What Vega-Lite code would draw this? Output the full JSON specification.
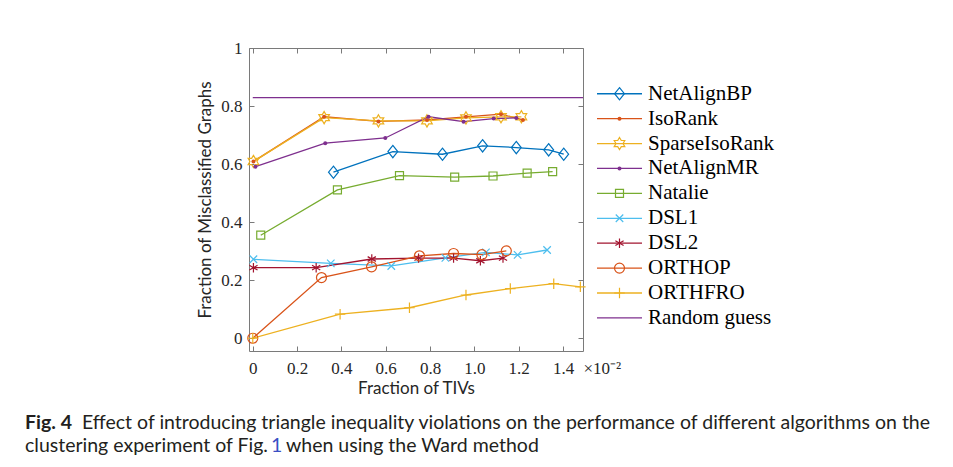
{
  "$schema": "https://vega.github.io/schema/vega-lite/v6.json",
  "background": "white",
  "padding": {"left": 25, "top": 38, "right": 5, "bottom": 5},
  "datasets": {
    "pts": [
      {"series": "NetAlignBP", "x": 0.364, "y": 0.572},
      {"series": "NetAlignBP", "x": 0.632, "y": 0.643},
      {"series": "NetAlignBP", "x": 0.856, "y": 0.634},
      {"series": "NetAlignBP", "x": 1.037, "y": 0.663},
      {"series": "NetAlignBP", "x": 1.189, "y": 0.657},
      {"series": "NetAlignBP", "x": 1.335, "y": 0.649},
      {"series": "NetAlignBP", "x": 1.403, "y": 0.634},
      {"series": "IsoRank", "x": 0.003, "y": 0.609},
      {"series": "IsoRank", "x": 0.322, "y": 0.763},
      {"series": "IsoRank", "x": 0.567, "y": 0.747},
      {"series": "IsoRank", "x": 0.786, "y": 0.752},
      {"series": "IsoRank", "x": 0.962, "y": 0.763},
      {"series": "IsoRank", "x": 1.12, "y": 0.772},
      {"series": "IsoRank", "x": 1.219, "y": 0.752},
      {"series": "SparseIsoRank", "x": 0.003, "y": 0.609},
      {"series": "SparseIsoRank", "x": 0.322, "y": 0.76},
      {"series": "SparseIsoRank", "x": 0.567, "y": 0.749},
      {"series": "SparseIsoRank", "x": 0.786, "y": 0.749},
      {"series": "SparseIsoRank", "x": 0.962, "y": 0.759},
      {"series": "SparseIsoRank", "x": 1.12, "y": 0.763},
      {"series": "SparseIsoRank", "x": 1.212, "y": 0.763},
      {"series": "NetAlignMR", "x": 0.012, "y": 0.591},
      {"series": "NetAlignMR", "x": 0.327, "y": 0.672},
      {"series": "NetAlignMR", "x": 0.598, "y": 0.69},
      {"series": "NetAlignMR", "x": 0.793, "y": 0.763},
      {"series": "NetAlignMR", "x": 0.951, "y": 0.746},
      {"series": "NetAlignMR", "x": 1.087, "y": 0.757},
      {"series": "NetAlignMR", "x": 1.189, "y": 0.759},
      {"series": "Natalie", "x": 0.036, "y": 0.355},
      {"series": "Natalie", "x": 0.382, "y": 0.511},
      {"series": "Natalie", "x": 0.662, "y": 0.56},
      {"series": "Natalie", "x": 0.911, "y": 0.555},
      {"series": "Natalie", "x": 1.084, "y": 0.559},
      {"series": "Natalie", "x": 1.238, "y": 0.569},
      {"series": "Natalie", "x": 1.353, "y": 0.574},
      {"series": "DSL1", "x": 0.003, "y": 0.272},
      {"series": "DSL1", "x": 0.352, "y": 0.258},
      {"series": "DSL1", "x": 0.625, "y": 0.249},
      {"series": "DSL1", "x": 0.869, "y": 0.277},
      {"series": "DSL1", "x": 1.052, "y": 0.296},
      {"series": "DSL1", "x": 1.195, "y": 0.287},
      {"series": "DSL1", "x": 1.328, "y": 0.304},
      {"series": "DSL2", "x": 0.003, "y": 0.243},
      {"series": "DSL2", "x": 0.286, "y": 0.243},
      {"series": "DSL2", "x": 0.537, "y": 0.273},
      {"series": "DSL2", "x": 0.748, "y": 0.276},
      {"series": "DSL2", "x": 0.906, "y": 0.276},
      {"series": "DSL2", "x": 1.027, "y": 0.267},
      {"series": "DSL2", "x": 1.129, "y": 0.276},
      {"series": "ORTHOP", "x": 0, "y": 0},
      {"series": "ORTHOP", "x": 0.31, "y": 0.209},
      {"series": "ORTHOP", "x": 0.536, "y": 0.246},
      {"series": "ORTHOP", "x": 0.752, "y": 0.284},
      {"series": "ORTHOP", "x": 0.906, "y": 0.292},
      {"series": "ORTHOP", "x": 1.034, "y": 0.288},
      {"series": "ORTHOP", "x": 1.144, "y": 0.301},
      {"series": "ORTHFRO", "x": 0, "y": 0},
      {"series": "ORTHFRO", "x": 0.394, "y": 0.083},
      {"series": "ORTHFRO", "x": 0.707, "y": 0.105},
      {"series": "ORTHFRO", "x": 0.962, "y": 0.149},
      {"series": "ORTHFRO", "x": 1.162, "y": 0.171},
      {"series": "ORTHFRO", "x": 1.358, "y": 0.188},
      {"series": "ORTHFRO", "x": 1.478, "y": 0.177},
      {"series": "Random guess", "x": 0, "y": 0.829},
      {"series": "Random guess", "x": 1.49, "y": 0.829}
    ]
  },
  "spacing": 381,
  "bounds": "flush",
  "vconcat": [
    {
      "bounds": "flush",
      "spacing": 14,
      "hconcat": [
        {
          "width": 334,
          "height": 303,
          "data": {"name": "pts"},
          "resolve": {"axis": {"x": "independent", "y": "independent"}},
          "layer": [
            {
              "mark": {"type": "line", "strokeWidth": 1.3},
              "encoding": {
                "x": {
                  "field": "x",
                  "type": "quantitative",
                  "scale": {"domain": [-0.017, 1.49], "nice": false, "zero": false},
                  "axis": {
                    "orient": "bottom",
                    "values": [0, 0.2, 0.4, 0.6, 0.8, 1, 1.2, 1.4, 1.49],
                    "labelExpr": "datum.value > 1.45 ? '×10⁻²' : datum.value == 0 ? '0' : format(datum.value, '.1f')",
                    "labelAlign": {"condition": {"test": "datum.value > 1.45", "value": "left"}, "value": "center"},
                    "tickOpacity": {"condition": {"test": "datum.value > 1.45", "value": 0}, "value": 1},
                    "tickSize": -5,
                    "tickColor": "#7a7a7a",
                    "domain": false,
                    "grid": false,
                    "labelFont": "Liberation Serif",
                    "labelFontSize": 17,
                    "labelColor": "#262626",
                    "labelPadding": 14,
                    "labelOverlap": false,
                    "labelFlush": false,
                    "title": "Fraction of TIVs",
                    "titleFont": "Lato",
                    "titleFontSize": 17,
                    "titleFontWeight": "normal",
                    "titleColor": "#262626",
                    "titlePadding": 4
                  }
                },
                "y": {
                  "field": "y",
                  "type": "quantitative",
                  "scale": {"domain": [-0.044, 1], "nice": false, "zero": false},
                  "axis": {
                    "orient": "left",
                    "values": [0, 0.2, 0.4, 0.6, 0.8, 1],
                    "labelExpr": "datum.value == 0 ? '0' : datum.value == 1 ? '1' : format(datum.value, '.1f')",
                    "tickSize": -5,
                    "tickColor": "#7a7a7a",
                    "domain": false,
                    "grid": false,
                    "labelFont": "Liberation Serif",
                    "labelFontSize": 17,
                    "labelColor": "#262626",
                    "labelPadding": 12,
                    "labelOverlap": false,
                    "title": "Fraction of Misclassified Graphs",
                    "titleFont": "Lato",
                    "titleFontSize": 17,
                    "titleFontWeight": "normal",
                    "titleColor": "#262626",
                    "titlePadding": 6
                  }
                },
                "color": {
                  "field": "series",
                  "type": "nominal",
                  "scale": {
                    "domain": ["NetAlignBP", "IsoRank", "SparseIsoRank", "NetAlignMR", "Natalie", "DSL1", "DSL2", "ORTHOP", "ORTHFRO", "Random guess"],
                    "range": ["#0072BD", "#D95319", "#EDB120", "#7E2F8E", "#77AC30", "#4DBEEE", "#A2142F", "#D95319", "#EDB120", "#7E2F8E"]
                  },
                  "legend": null
                }
              }
            },
            {
              "transform": [{"filter": {"field": "series", "oneOf": ["NetAlignBP", "SparseIsoRank", "Natalie", "DSL1", "DSL2", "ORTHOP", "ORTHFRO"]}}],
              "mark": {"type": "point", "filled": false, "strokeWidth": 1.2, "opacity": 1},
              "encoding": {
                "x": {
                  "field": "x",
                  "type": "quantitative",
                  "scale": {"domain": [-0.017, 1.49], "nice": false, "zero": false},
                  "axis": {"orient": "top", "values": [0, 0.2, 0.4, 0.6, 0.8, 1, 1.2, 1.4], "labels": false, "tickSize": -5, "tickColor": "#7a7a7a", "domain": false, "grid": false, "title": null}
                },
                "y": {
                  "field": "y",
                  "type": "quantitative",
                  "scale": {"domain": [-0.044, 1], "nice": false, "zero": false},
                  "axis": {"orient": "right", "values": [0, 0.2, 0.4, 0.6, 0.8, 1], "labels": false, "tickSize": -5, "tickColor": "#7a7a7a", "domain": false, "grid": false, "title": null}
                },
                "color": {"field": "series", "type": "nominal", "legend": null},
                "shape": {
                  "field": "series",
                  "type": "nominal",
                  "scale": {
                    "domain": ["NetAlignBP", "SparseIsoRank", "Natalie", "DSL1", "DSL2", "ORTHOP", "ORTHFRO"],
                    "range": [
                      "M0,-1L0.8,0L0,1L-0.8,0Z",
                      "M0,-1L0.289,-0.5L0.866,-0.5L0.577,0L0.866,0.5L0.289,0.5L0,1L-0.289,0.5L-0.866,0.5L-0.577,0L-0.866,-0.5L-0.289,-0.5Z",
                      "square",
                      "M-1,-1L1,1M-1,1L1,-1",
                      "M0,-1L0,1M-0.866,-0.5L0.866,0.5M-0.866,0.5L0.866,-0.5",
                      "circle",
                      "M-1,0L1,0M0,-1L0,1"
                    ]
                  },
                  "legend": null
                },
                "size": {
                  "field": "series",
                  "type": "nominal",
                  "scale": {
                    "type": "ordinal",
                    "domain": ["NetAlignBP", "SparseIsoRank", "Natalie", "DSL1", "DSL2", "ORTHOP", "ORTHFRO"],
                    "range": [150, 150, 64, 56, 90, 100, 110]
                  },
                  "legend": null
                }
              }
            },
            {
              "transform": [{"filter": {"field": "series", "oneOf": ["IsoRank", "NetAlignMR"]}}],
              "mark": {"type": "circle", "size": 16, "opacity": 1},
              "encoding": {
                "x": {"field": "x", "type": "quantitative", "scale": {"domain": [-0.017, 1.49], "nice": false, "zero": false}, "axis": null},
                "y": {"field": "y", "type": "quantitative", "scale": {"domain": [-0.044, 1], "nice": false, "zero": false}, "axis": null},
                "color": {"field": "series", "type": "nominal", "legend": null}
              }
            }
          ]
        },
        {
          "width": 45,
          "height": 274,
          "view": {"stroke": null},
          "data": {"name": "pts"},
          "transform": [{"aggregate": [{"op": "count", "as": "n"}], "groupby": ["series"]}],
          "encoding": {
            "y": {
              "field": "series",
              "type": "nominal",
              "scale": {
                "type": "point",
                "domain": ["NetAlignBP", "IsoRank", "SparseIsoRank", "NetAlignMR", "Natalie", "DSL1", "DSL2", "ORTHOP", "ORTHFRO", "Random guess"],
                "padding": 1,
                "align": 0.918
              },
              "axis": null
            }
          },
          "layer": [
            {
              "mark": {"type": "rule", "strokeWidth": 1.3},
              "encoding": {
                "x": {"datum": 0, "type": "quantitative", "scale": {"domain": [0, 1]}, "axis": null},
                "x2": {"datum": 1},
                "color": {"field": "series", "type": "nominal", "legend": null}
              }
            },
            {
              "transform": [{"filter": {"field": "series", "oneOf": ["NetAlignBP", "SparseIsoRank", "Natalie", "DSL1", "DSL2", "ORTHOP", "ORTHFRO"]}}],
              "mark": {"type": "point", "filled": false, "strokeWidth": 1.2, "opacity": 1},
              "encoding": {
                "x": {"datum": 0.5, "type": "quantitative", "scale": {"domain": [0, 1]}, "axis": null},
                "color": {"field": "series", "type": "nominal", "legend": null},
                "shape": {
                  "field": "series",
                  "type": "nominal",
                  "scale": {
                    "domain": ["NetAlignBP", "SparseIsoRank", "Natalie", "DSL1", "DSL2", "ORTHOP", "ORTHFRO"],
                    "range": [
                      "M0,-1L0.8,0L0,1L-0.8,0Z",
                      "M0,-1L0.289,-0.5L0.866,-0.5L0.577,0L0.866,0.5L0.289,0.5L0,1L-0.289,0.5L-0.866,0.5L-0.577,0L-0.866,-0.5L-0.289,-0.5Z",
                      "square",
                      "M-1,-1L1,1M-1,1L1,-1",
                      "M0,-1L0,1M-0.866,-0.5L0.866,0.5M-0.866,0.5L0.866,-0.5",
                      "circle",
                      "M-1,0L1,0M0,-1L0,1"
                    ]
                  },
                  "legend": null
                },
                "size": {
                  "field": "series",
                  "type": "nominal",
                  "scale": {
                    "type": "ordinal",
                    "domain": ["NetAlignBP", "SparseIsoRank", "Natalie", "DSL1", "DSL2", "ORTHOP", "ORTHFRO"],
                    "range": [150, 150, 64, 56, 90, 100, 110]
                  },
                  "legend": null
                }
              }
            },
            {
              "transform": [{"filter": {"field": "series", "oneOf": ["IsoRank", "NetAlignMR"]}}],
              "mark": {"type": "circle", "size": 16, "opacity": 1},
              "encoding": {
                "x": {"datum": 0.5, "type": "quantitative", "scale": {"domain": [0, 1]}, "axis": null},
                "color": {"field": "series", "type": "nominal", "legend": null}
              }
            },
            {
              "mark": {"type": "text", "align": "left", "baseline": "middle", "dx": 6, "font": "Liberation Serif", "fontSize": 21, "color": "#000000"},
              "encoding": {
                "x": {"datum": 1, "type": "quantitative", "scale": {"domain": [0, 1]}, "axis": null},
                "text": {"field": "series"}
              }
            }
          ]
        }
      ]
    },
    {
      "width": 334,
      "height": 23,
      "view": {"stroke": null},
      "data": {
        "values": [
          {"line": 1, "part": "fig", "text": "Fig. 4"},
          {"line": 1, "part": "l1", "text": "Effect of introducing triangle inequality violations on the performance of different algorithms on the"},
          {"line": 2, "part": "l2", "text": "clustering experiment of Fig."},
          {"line": 2, "part": "ref", "text": "1"},
          {"line": 2, "part": "tail", "text": "when using the Ward method"}
        ]
      },
      "encoding": {
        "y": {"field": "line", "type": "ordinal", "scale": {"type": "point", "padding": 0}, "axis": null},
        "x": {"datum": 0, "type": "quantitative", "scale": {"domain": [0, 1]}, "axis": null},
        "text": {"field": "text"}
      },
      "layer": [
        {
          "transform": [{"filter": "datum.part == 'fig'"}],
          "mark": {"type": "text", "align": "left", "baseline": "alphabetic", "dx": -224, "font": "Lato", "fontSize": 19.5, "fontWeight": "bold", "color": "#231f20"}
        },
        {
          "transform": [{"filter": "datum.part == 'l1'"}],
          "mark": {"type": "text", "align": "left", "baseline": "alphabetic", "dx": -167, "font": "Lato", "fontSize": 19.5, "color": "#231f20"}
        },
        {
          "transform": [{"filter": "datum.part == 'l2'"}],
          "mark": {"type": "text", "align": "left", "baseline": "alphabetic", "dx": -224, "font": "Lato", "fontSize": 19.5, "color": "#231f20"}
        },
        {
          "transform": [{"filter": "datum.part == 'ref'"}],
          "mark": {"type": "text", "align": "left", "baseline": "alphabetic", "dx": 22, "font": "Lato", "fontSize": 19.5, "color": "#3a4fc4"}
        },
        {
          "transform": [{"filter": "datum.part == 'tail'"}],
          "mark": {"type": "text", "align": "left", "baseline": "alphabetic", "dx": 37, "font": "Lato", "fontSize": 19.5, "color": "#231f20"}
        }
      ]
    }
  ],
  "config": {
    "view": {"stroke": "#7a7a7a", "strokeWidth": 1},
    "axis": {"grid": false}
  }
}
